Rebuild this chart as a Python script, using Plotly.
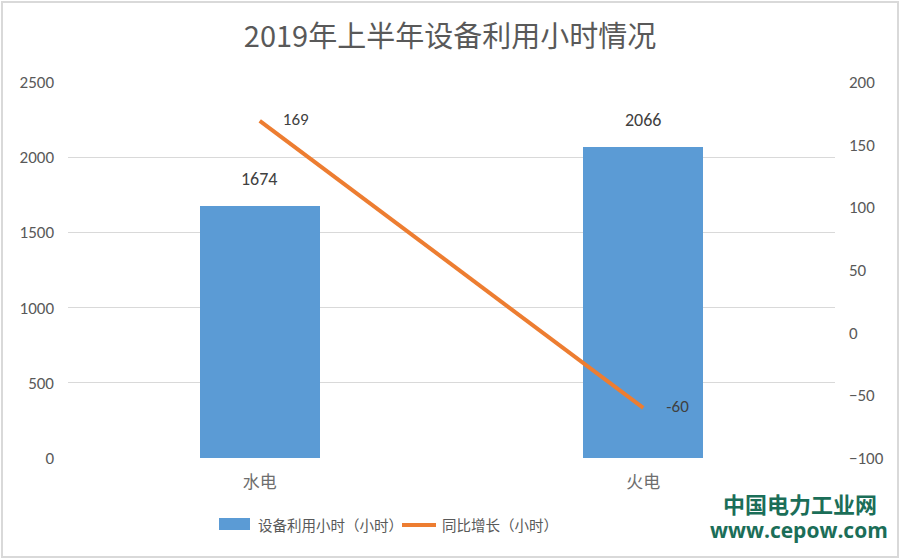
import plotly.graph_objects as go

categories = ["水电", "火电"]
hours = [1674, 2066]
yoy = [169, -60]
left_ticks = [0, 500, 1000, 1500, 2000, 2500]
right_ticks = [-100, -50, 0, 50, 100, 150, 200]
series_names = ["设备利用小时（小时）", "同比增长（小时）"]

FONT = "Carlito, Calibri, Lato, sans-serif"
CJK = "'Microsoft YaHei', 'Noto Sans CJK SC', sans-serif"
TICK = "#595959"
BLUE = "#5B9BD5"
ORANGE = "#ED7D31"

w, h = 900, 559
l, r, t, b = 68, 65, 82, 101
pw, ph = w - l - r, h - t - b

def px_x(p):
    return (p - l) / pw

def px_y(p):
    return (h - b - p) / ph

fig = go.Figure()
fig.add_trace(go.Bar(
    x=categories, y=hours, name=series_names[0],
    marker=dict(color=BLUE, line=dict(width=0)),
    width=0.3125, showlegend=False,
))
fig.add_trace(go.Scatter(
    x=categories, y=yoy, name=series_names[1], yaxis="y2",
    mode="lines+text", line=dict(color=ORANGE, width=4),
    text=["      " + str(v) for v in yoy], textposition="middle right",
    textfont=dict(size=17, color="#404040", family=FONT),
    cliponaxis=False, showlegend=False,
))

for c, v in zip(categories, hours):
    fig.add_annotation(x=c, y=v, text=str(v), showarrow=False, yanchor="bottom",
                       yshift=14, font=dict(size=18, color="#404040", family=FONT))

fig.update_layout(
    width=w, height=h,
    margin=dict(l=l, r=r, t=t, b=b, autoexpand=False),
    paper_bgcolor="white", plot_bgcolor="white",
    title=dict(text="2019年上半年设备利用小时情况", x=0.5, xanchor="center",
               y=1 - 37 / h, yanchor="middle",
               font=dict(size=29, color="#595959", family=CJK)),
    xaxis=dict(range=[-0.5, 1.5], showgrid=False, showline=False, ticks="", automargin=False,
               tickfont=dict(size=17, color="#6E6E6E", family=CJK), ticklabelstandoff=12),
    yaxis=dict(range=[0, 2500], tickvals=left_ticks, showgrid=True, automargin=False,
               gridcolor="#D9D9D9", gridwidth=1, zeroline=False,
               tickfont=dict(size=17, color=TICK, family=FONT), ticklabelstandoff=13),
    yaxis2=dict(range=[-100, 200], tickvals=right_ticks, overlaying="y", side="right",
                showgrid=False, zeroline=False, automargin=False,
                tickfont=dict(size=17, color=TICK, family=FONT), ticklabelstandoff=13),
    showlegend=False,
    bargap=0,
)

# legend drawn manually
fig.add_shape(type="rect", xref="paper", yref="paper",
              x0=px_x(219), x1=px_x(250), y0=px_y(530), y1=px_y(518),
              fillcolor=BLUE, line=dict(width=0))
fig.add_annotation(text=series_names[0], xref="paper", yref="paper",
                   x=px_x(256), y=px_y(524), xanchor="left", yanchor="middle", showarrow=False,
                   font=dict(size=14.5, color=TICK, family=CJK))
fig.add_shape(type="line", xref="paper", yref="paper",
              x0=px_x(402), x1=px_x(436), y0=px_y(525), y1=px_y(525),
              line=dict(color=ORANGE, width=4))
fig.add_annotation(text=series_names[1], xref="paper", yref="paper",
                   x=px_x(440), y=px_y(524), xanchor="left", yanchor="middle", showarrow=False,
                   font=dict(size=14.5, color=TICK, family=CJK))

fig.add_annotation(text="<b>中国电力工业网</b>", xref="paper", yref="paper",
                   x=px_x(800), y=px_y(503), xanchor="center", yanchor="middle", showarrow=False,
                   font=dict(size=22, color="#1B6E58", family=CJK))
fig.add_annotation(text="<b>www.cepow.com</b>", xref="paper", yref="paper",
                   x=px_x(799), y=px_y(530), xanchor="center", yanchor="middle", showarrow=False,
                   font=dict(size=21, color="#1B6E58", family="'Open Sans', sans-serif"))
fig.add_shape(type="rect", xref="paper", yref="paper",
              x0=px_x(2), x1=px_x(898), y0=px_y(557), y1=px_y(2),
              line=dict(color="#D9D9D9", width=2), fillcolor="rgba(0,0,0,0)", layer="below")

fig.write_html("out.html", config={"displayModeBar": False},
               post_script="document.body.style.margin='0';")
